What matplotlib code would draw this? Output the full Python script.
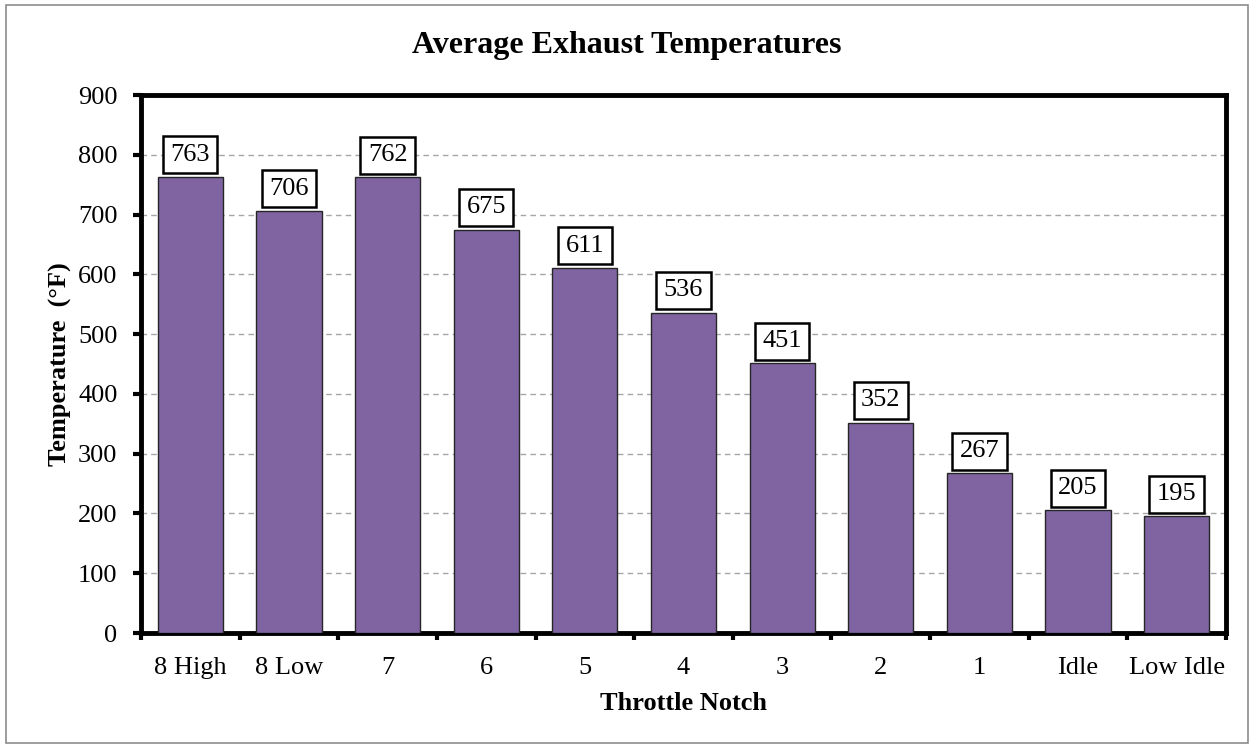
import numpy as np
import matplotlib.pyplot as plt
from matplotlib.patches import Rectangle

categories = ["8 High", "8 Low", "7", "6", "5", "4", "3", "2", "1", "Idle", "Low Idle"]
temps = [763, 706, 762, 675, 611, 536, 451, 352, 267, 205, 195]
yticks = [0, 100, 200, 300, 400, 500, 600, 700, 800, 900]

plt.rcParams['font.family'] = ['Liberation Serif', 'DejaVu Serif']

fig = plt.figure(figsize=(12.54, 7.49), dpi=100)
fig.patches.append(Rectangle((0.005, 0.008), 0.99, 0.985, transform=fig.transFigure,
                             fill=False, edgecolor='#8c8c8c', linewidth=1.2))
ax = fig.add_axes([141/1254, 1 - 633/749, (1226-141)/1254, (633-95)/749])

x = np.arange(len(categories))
ax.bar(x, temps, width=0.66, color='#8064a2', edgecolor='#262626', linewidth=1, zorder=3)

for xi, v in zip(x, temps):
    ax.annotate(str(v), (xi, v), xytext=(0, 8), textcoords='offset points',
                ha='center', va='bottom', fontsize=19,
                bbox=dict(boxstyle='square,pad=0.28', fc='white', ec='black', lw=1.8), zorder=4)

ax.set_xlim(-0.5, len(categories) - 0.5)
ax.set_ylim(0, 900)
ax.set_yticks(yticks)
ax.yaxis.grid(True, linestyle=(0, (4, 3)), color='#a6a6a6', linewidth=1, zorder=0)
ax.set_xticks(x)
ax.set_xticklabels(categories, fontsize=19)
ax.set_xticks(np.arange(-0.5, len(categories)), minor=True)
ax.tick_params(axis='x', which='major', length=0, pad=17)
ax.tick_params(axis='x', which='minor', length=5, width=3, direction='out')
ax.tick_params(axis='y', labelsize=19, length=6, width=3, direction='out', pad=11)
for s in ax.spines.values():
    s.set_linewidth(3.5)

ax.set_ylabel("Temperature  (°F)", fontsize=19, fontweight='bold', labelpad=4)
ax.set_xlabel("Throttle Notch", fontsize=19, fontweight='bold', labelpad=10)
fig.text(0.5, 1 - 46/749, "Average Exhaust Temperatures", ha='center', va='center',
         fontsize=23, fontweight='bold')

fig.savefig("out.png", dpi=100)
